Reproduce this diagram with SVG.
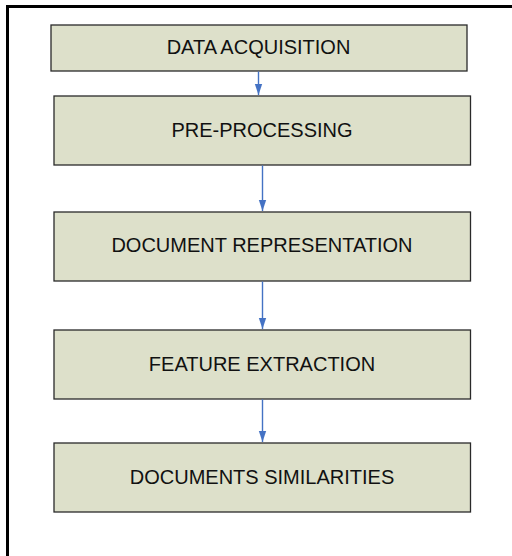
<svg xmlns="http://www.w3.org/2000/svg" width="512" height="556" viewBox="0 0 512 556">
<style>
.box{fill:#dde0ca;stroke:#2a2a2a;stroke-width:1.3}
.lbl{font-family:"Liberation Sans",Arial,sans-serif;font-size:20px;fill:#111;text-anchor:middle}
.conn{stroke:#4472c4;stroke-width:1.4;fill:none}
</style>
<defs>
<marker id="ah" markerUnits="userSpaceOnUse" markerWidth="11" markerHeight="16" refX="15" refY="5" viewBox="0 0 15 10" orient="auto">
<path d="M0,0 L15,5 L0,10 z" fill="#4472c4"/>
</marker>
</defs>
<rect width="512" height="556" fill="#fff"/>
<path d="M7.5,556 V6.5 H512" fill="none" stroke="#000" stroke-width="3"/>
<g id="n1"><rect class="box" x="51" y="25" width="416" height="46"/><text class="lbl" x="258.5" y="54">DATA ACQUISITION</text></g>
<g id="n2"><rect class="box" x="54" y="96" width="416.5" height="69"/><text class="lbl" x="262" y="137">PRE-PROCESSING</text></g>
<g id="n3"><rect class="box" x="54" y="212" width="416.5" height="69"/><text class="lbl" x="262" y="252">DOCUMENT REPRESENTATION</text></g>
<g id="n4"><rect class="box" x="54" y="330" width="416.5" height="69"/><text class="lbl" x="262" y="371">FEATURE EXTRACTION</text></g>
<g id="n5"><rect class="box" x="54" y="443" width="416.5" height="69"/><text class="lbl" x="262" y="484">DOCUMENTS SIMILARITIES</text></g>
<g id="connectors">
<path class="conn" d="M258.5,71.5 V95" marker-end="url(#ah)"/>
<path class="conn" d="M262.5,165.5 V211" marker-end="url(#ah)"/>
<path class="conn" d="M262.5,281.5 V329" marker-end="url(#ah)"/>
<path class="conn" d="M262.5,399.5 V442" marker-end="url(#ah)"/>
</g>
</svg>
